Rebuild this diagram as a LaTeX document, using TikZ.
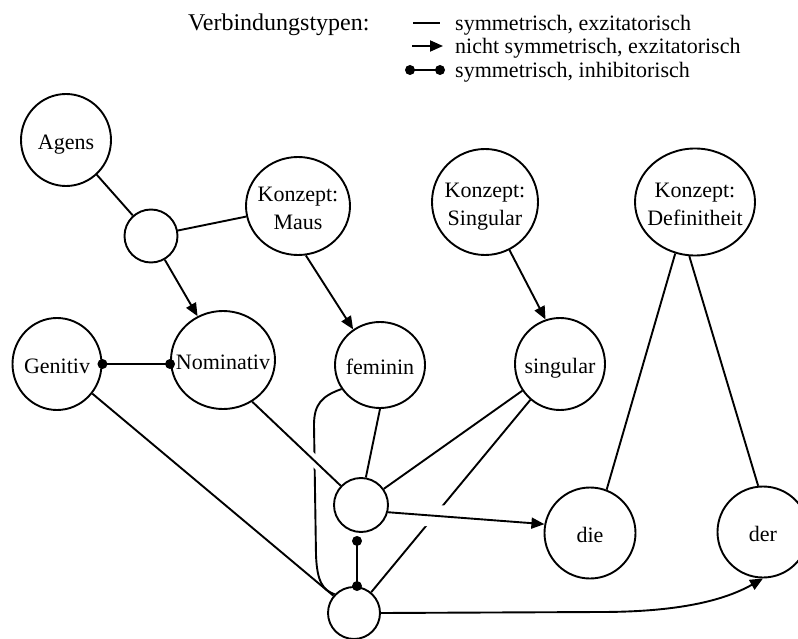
\documentclass[tikz,border=0pt]{standalone}
\usepackage{fontspec}
\setmainfont{Liberation Serif}
\usetikzlibrary{arrows.meta,shapes.geometric}
% zero-size label so the ellipse size is set only by its minimum width/height
\newcommand\unitlabel[1]{\makebox[0pt]{\raisebox{-9pt}[0pt][0pt]{\begin{tabular}{@{}c@{}}#1\end{tabular}}}}
\begin{document}
\begin{tikzpicture}[x=1pt,y=-1pt,
  every node/.style={font=\fontsize{22}{28}\selectfont},
  unit/.style 2 args={ellipse, draw, line width=1.9pt, fill=white, inner sep=0pt,
    minimum width=#1pt, minimum height=#2pt},
  legtext/.style={anchor=base west, inner sep=0pt},
  link/.style={line width=1.9pt},
  excite/.style={link, -{Triangle[length=13pt,width=11pt]}},
  gapover/.style={preaction={draw=white, -, line width=#1, shorten <=16pt, shorten >=16pt}},
  dot/.style={fill=black}
]
\fill[white] (0,0) rectangle (798,639);
\useasboundingbox (0,0) rectangle (798,639);

% legend
\node[legtext, font=\fontsize{24}{28}\selectfont] (legtitle) at (188,31) {Verbindungstypen:};
\node[legtext] (leg1) at (455,31) {symmetrisch, exzitatorisch};
\node[legtext] (leg2) at (455,54) {nicht symmetrisch, exzitatorisch};
\node[legtext] (leg3) at (455,78) {symmetrisch, inhibitorisch};
\coordinate (s1a) at (413,23); \coordinate (s1b) at (440,23);
\coordinate (s2a) at (412,46); \coordinate (s2b) at (443,46);
\coordinate (s3a) at (410,70); \coordinate (s3b) at (440,70);
\draw[link] (s1a) -- (s1b);
\draw[excite] (s2a) -- (s2b);
\draw[link] (s3a) -- (s3b);
\fill[dot] (s3a) circle[radius=5pt];
\fill[dot] (s3b) circle[radius=5pt];

% units
\node[unit={90}{92}]   (agens) at (66,140)  {\unitlabel{Agens}};
\node[unit={53}{53}]   (hA)    at (151,236) {};
\node[unit={104}{98}]  (maus)  at (298,206) {\unitlabel{Konzept:\\Maus}};
\node[unit={106}{106}] (ksing) at (485,202) {\unitlabel{Konzept:\\Singular}};
\node[unit={120}{107}] (kdef)  at (695,202) {\unitlabel{Konzept:\\Definitheit}};
\node[unit={89}{92}]   (gen)   at (57,364)  {\unitlabel{Genitiv}};
\node[unit={104}{98}]  (nom)   at (223,360) {\unitlabel{Nominativ}};
\node[unit={90}{86}]   (fem)   at (380,365) {\unitlabel{feminin}};
\node[unit={90}{92}]   (sing)  at (560,364) {\unitlabel{singular}};
\node[unit={54}{54}]   (hB)    at (361,505) {};
\node[unit={52}{52}]   (hC)    at (354,613) {};
\node[unit={91}{91}]   (die)   at (590,533) {\unitlabel{die}};
\node[unit={91}{91}]   (der)   at (763,532) {\unitlabel{der}};

% connections
\draw[link] (agens) -- (hA);
\draw[link] (hA) -- (maus);
\draw[excite] (hA) -- (nom);
\draw[excite] (maus.279) -- (fem.127);
\draw[excite] (ksing.297) -- (sing.108);
\draw[link] (kdef.249) -- (die.69);
\draw[link] (kdef.264) -- (der.96);
\draw[link] (gen) -- (hC);
\draw[link] (fem.212) .. controls (322,396) and (314,404) .. (314,425)
  -- (316,555) .. controls (317,582) and (323,590) .. (hC.136);
\draw[link, gapover=11pt] (nom.305) -- (hB);
\draw[link] (fem.south) -- (hB.80);
\draw[link] (sing) -- (hB);
\draw[link] (sing) -- (hC);
\draw[excite, gapover=22pt] (hB.345) -- (die.169);
\coordinate (bend) at (600,612);
\draw[excite] (hC.east) -- (bend) .. controls (680,612) and (725,600) .. (der.south);

% inhibitory links
\draw[link] (gen.east) -- (gen.east -| nom.west);
\fill[dot] (gen.east) circle[radius=5pt];
\fill[dot] (gen.east -| nom.west) circle[radius=5pt];
\coordinate (inhTop) at ([shift={(-4,8)}]hB.south);
\coordinate (inhBot) at (hC.north -| inhTop);
\draw[link] (inhTop) -- (inhBot);
\fill[dot] (inhTop) circle[radius=5pt];
\fill[dot] (inhBot) circle[radius=5pt];
\end{tikzpicture}
\end{document}
